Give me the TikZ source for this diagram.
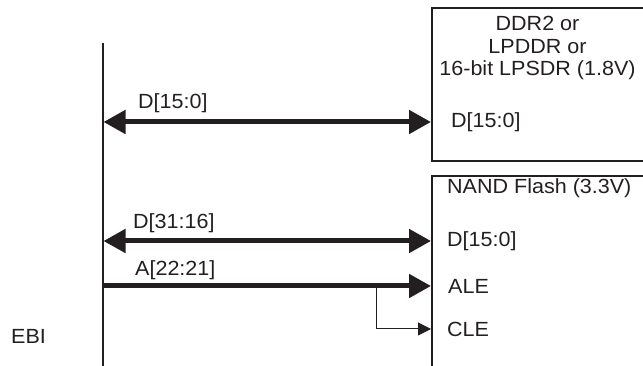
\documentclass[tikz,border=0pt]{standalone}
\usepackage{fontspec}
\setmainfont{Liberation Sans}[FakeStretch=1.05]
\usetikzlibrary{arrows.meta}
\definecolor{ink}{HTML}{231F20}
\tikzset{
  x=1pt, y=1pt,
  lbl/.style={inner sep=0pt, anchor=west, text=ink, font=\fontsize{20.5}{24}\selectfont},
  ctr/.style={inner sep=0pt, text=ink, font=\fontsize{20.5}{24}\selectfont},
  devbox/.style={draw=ink, line width=2pt, anchor=north west, inner sep=0pt},
  busline/.style={draw=ink, line width=2pt},
  dbl/.style={draw=ink, line width=5pt, {Triangle[length=22pt,width=23pt]}-{Triangle[length=22pt,width=23pt]}},
  sgl/.style={draw=ink, line width=5pt, -{Triangle[length=22pt,width=23pt]}},
  thin/.style={draw=ink, line width=1pt, -{Triangle[length=13pt,width=13pt]}},
}
\begin{document}
\begin{tikzpicture}
\useasboundingbox (0,0) rectangle (643,366);
\clip (0,0) rectangle (643,366);
% bus
\coordinate (bustop) at (102.5,323);
\coordinate (busbot) at (102.5,-5);
\draw[busline] (bustop) -- (busbot);
\node[ctr, anchor=west] (ebi) at (11,30) {EBI};
% device boxes
\node[devbox, minimum width=230pt, minimum height=153pt] (ddr) at (431,359) {};
\node[devbox, minimum width=230pt, minimum height=200pt] (nand) at (431,191) {};
% DDR texts
\node[ctr] (t1) at (537.5,343) {DDR2 or};
\node[ctr] (t2) at (537.5,319) {LPDDR or};
\node[ctr] (t3) at (537.5,296) {16-bit LPSDR (1.8V)};
\node[lbl] (ddrD) at (451,244) {D[15:0]};
% NAND texts
\node[lbl] (nt) at (447,178) {NAND Flash (3.3V)};
\node[lbl] (nD) at (447,125) {D[15:0]};
\node[lbl] (nALE) at (448,80) {ALE};
\node[lbl] (nCLE) at (447,37) {CLE};
% signal labels
\node[lbl] (l1) at (138,263) {D[15:0]};
\node[lbl] (l2) at (133,143) {D[31:16]};
\node[lbl] (l3) at (135,96) {A[22:21]};
% connectors
\coordinate (p1) at (103.5,244);
\coordinate (p2) at (103.5,125);
\coordinate (p3) at (101.5,80);
\coordinate (br) at (376,80);
\coordinate (brb) at (376,37);
\draw[dbl] (p1) -- (p1 -| ddr.west);
\draw[dbl] (p2) -- (p2 -| nand.west);
\draw[sgl] (p3) -- (p3 -| nand.west);
\draw[thin] (br) -- (brb) -- (brb -| nand.west);
\end{tikzpicture}
\end{document}
